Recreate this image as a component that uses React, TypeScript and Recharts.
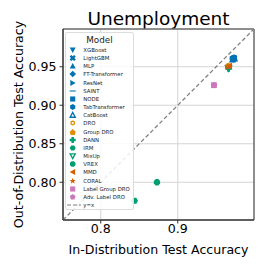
import React from "react";
import {
  ScatterChart,
  Scatter,
  XAxis,
  YAxis,
  CartesianGrid,
  ReferenceLine,
  ReferenceArea,
  Legend,
} from "recharts";

const FONT = "'DejaVu Sans', sans-serif";

const MODELS = [
  "XGBoost",
  "LightGBM",
  "MLP",
  "FT-Transformer",
  "ResNet",
  "SAINT",
  "NODE",
  "TabTransformer",
  "CatBoost",
  "DRO",
  "Group DRO",
  "DANN",
  "IRM",
  "MixUp",
  "VREX",
  "MMD",
  "CORAL",
  "Label Group DRO",
  "Adv. Label DRO",
];

// in-distribution / out-of-distribution accuracy per model
const IN_DIST = [
  0.972, 0.973, 0.971, 0.972, 0.971, 0.972, 0.973, 0.973, 0.973, 0.965, 0.966, 0.966, 0.844, 0.966, 0.873,
  0.967, 0.965, 0.947, 0.947,
];
const OUT_DIST = [
  0.96, 0.961, 0.959, 0.96, 0.96, 0.961, 0.961, 0.96, 0.961, 0.951, 0.951, 0.948, 0.776, 0.948, 0.8, 0.951,
  0.95, 0.926, 0.926,
];

const X_TICKS = [0.8, 0.9];
const Y_TICKS = [0.8, 0.85, 0.9, 0.95];
const DOMAIN: [number, number] = [0.751, 0.999];

// styling, kept apart from the values
const BLUE = "#0173b2";
const ORANGE = "#de8f05";
const GREEN = "#029e73";
const RED = "#d55e00";
const PINK = "#cc78bc";
const MODEL_COLORS = [
  BLUE, BLUE, BLUE, BLUE, BLUE, BLUE, BLUE, BLUE, BLUE,
  ORANGE, ORANGE, GREEN, GREEN, GREEN, GREEN, RED, RED, PINK, PINK,
];
const MODEL_MARKERS = [
  "v", "X", "^", "D", ">", "_", "s", "h", "tri", "ring", "house", "P", "h2", "vo", "oct", "<", "*", "s", "p",
];
// outlined markers go underneath the filled ones
const DRAW_ORDER = [8, 9, 13, 0, 1, 2, 3, 4, 5, 6, 7, 10, 11, 12, 14, 15, 16, 17, 18];

function poly(pts: number[][]) {
  return pts.map((p) => `${p[0].toFixed(2)},${p[1].toFixed(2)}`).join(" ");
}

function regular(cx: number, cy: number, r: number, n: number, rot: number) {
  const pts: number[][] = [];
  for (let i = 0; i < n; i++) {
    const a = rot + (i * 2 * Math.PI) / n;
    pts.push([cx + r * Math.sin(a), cy - r * Math.cos(a)]);
  }
  return poly(pts);
}

function plusPts(cx: number, cy: number, r: number, w: number, rot: number) {
  const base = [
    [-w, -r], [w, -r], [w, -w], [r, -w], [r, w], [w, w], [w, r], [-w, r], [-w, w], [-r, w], [-r, -w], [-w, -w],
  ];
  const c = Math.cos(rot);
  const s = Math.sin(rot);
  return poly(base.map(([x, y]) => [cx + x * c - y * s, cy + x * s + y * c]));
}

function marker(kind: string, cx: number, cy: number, r: number, color: string) {
  switch (kind) {
    case "v":
      return <polygon points={poly([[cx - r, cy - r * 0.8], [cx + r, cy - r * 0.8], [cx, cy + r]])} fill={color} />;
    case "^":
      return <polygon points={poly([[cx - r, cy + r * 0.8], [cx + r, cy + r * 0.8], [cx, cy - r]])} fill={color} />;
    case ">":
      return <polygon points={poly([[cx - r * 0.8, cy - r], [cx - r * 0.8, cy + r], [cx + r, cy]])} fill={color} />;
    case "<":
      return <polygon points={poly([[cx + r * 0.8, cy - r], [cx + r * 0.8, cy + r], [cx - r, cy]])} fill={color} />;
    case "D":
      return <polygon points={regular(cx, cy, r * 1.1, 4, 0)} fill={color} />;
    case "X":
      return <polygon points={plusPts(cx, cy, r * 1.05, r * 0.4, Math.PI / 4)} fill={color} />;
    case "P":
      return <polygon points={plusPts(cx, cy, r, r * 0.42, 0)} fill={color} />;
    case "_":
      return <rect x={cx - r} y={cy - r * 0.18} width={2 * r} height={r * 0.36} fill={color} />;
    case "s":
      return <rect x={cx - r * 0.85} y={cy - r * 0.85} width={r * 1.7} height={r * 1.7} fill={color} />;
    case "h":
      return <polygon points={regular(cx, cy, r, 6, 0)} fill={color} />;
    case "h2":
      return <polygon points={regular(cx, cy, r, 6, Math.PI / 6)} fill={color} />;
    case "oct":
      return <polygon points={regular(cx, cy, r, 8, Math.PI / 8)} fill={color} />;
    case "p":
      return <polygon points={regular(cx, cy, r, 5, 0)} fill={color} />;
    case "house":
      return (
        <polygon
          points={poly([[cx, cy - r], [cx + r, cy - r * 0.1], [cx + r * 0.7, cy + r], [cx - r * 0.7, cy + r], [cx - r, cy - r * 0.1]])}
          fill={color}
        />
      );
    case "tri":
      return (
        <polygon
          points={poly([[cx - r * 0.85, cy + r * 0.75], [cx + r * 0.85, cy + r * 0.75], [cx, cy - r * 0.85]])}
          fill="white"
          stroke={color}
          strokeWidth={r * 0.45}
        />
      );
    case "vo":
      return (
        <polygon
          points={poly([[cx - r * 0.85, cy - r * 0.7], [cx + r * 0.85, cy - r * 0.7], [cx, cy + r * 0.85]])}
          fill="white"
          stroke={color}
          strokeWidth={r * 0.45}
        />
      );
    case "ring":
      return <circle cx={cx} cy={cy} r={r * 0.6} fill="white" stroke={color} strokeWidth={r * 0.45} />;
    case "*": {
      const pts: number[][] = [];
      for (let i = 0; i < 10; i++) {
        const a = (i * Math.PI) / 5;
        const rr = i % 2 === 0 ? r * 1.1 : r * 0.45;
        pts.push([cx + rr * Math.sin(a), cy - rr * Math.cos(a)]);
      }
      return <polygon points={poly(pts)} fill={color} />;
    }
    default:
      return <circle cx={cx} cy={cy} r={r} fill={color} />;
  }
}

function ModelLegend() {
  return (
    <div
      style={{
        position: "relative",
        width: 69,
        height: 178,
        boxSizing: "border-box",
        background: "rgba(255,255,255,0.85)",
        border: "1px solid #dcdcdc",
        borderRadius: 2,
        fontFamily: FONT,
        color: "#222",
      }}
    >
      <div
        style={{
          position: "absolute",
          left: 0,
          width: 67,
          top: 1.5,
          textAlign: "center",
          fontSize: 8.8,
          lineHeight: "10px",
        }}
      >
        Model
      </div>
      {MODELS.map((m, i) => (
        <div key={m} style={{ position: "absolute", left: 0, top: 13 + i * 8.16, height: 8, width: 67 }}>
          <svg width={14} height={8} style={{ position: "absolute", left: 0, top: 0 }}>
            {marker(MODEL_MARKERS[i], 6.7, 4, 3, MODEL_COLORS[i])}
          </svg>
          <span style={{ position: "absolute", left: 17.3, top: 0, fontSize: 5.4, lineHeight: "8px", whiteSpace: "nowrap" }}>
            {m}
          </span>
        </div>
      ))}
      <div style={{ position: "absolute", left: 0, top: 13 + MODELS.length * 8.16, height: 8, width: 67 }}>
        <svg width={16} height={8} style={{ position: "absolute", left: 0, top: 0 }}>
          <line x1={1} y1={4} x2={15} y2={4} stroke="#808080" strokeWidth={1.2} strokeDasharray="4 2" />
        </svg>
        <span style={{ position: "absolute", left: 17.3, top: 0, fontSize: 5.4, lineHeight: "8px" }}>y=x</span>
      </div>
    </div>
  );
}

export default function App() {
  return (
    <div style={{ position: "absolute", left: 0, top: 0, width: 266, height: 266, background: "#fff", fontFamily: FONT }}>
      <div
        style={{
          position: "absolute",
          left: 63,
          top: 8,
          width: 191,
          textAlign: "center",
          fontSize: 18.5,
          lineHeight: "21px",
          color: "#000",
        }}
      >
        Unemployment
      </div>
      <ScatterChart width={266} height={266} margin={{ top: 29, right: 12, bottom: 0, left: 0 }}>
        <CartesianGrid stroke="#d4d4d4" strokeWidth={1} />
        <XAxis
          type="number"
          dataKey="x"
          domain={DOMAIN}
          ticks={X_TICKS}
          allowDataOverflow
          height={46}
          tickFormatter={(v: number) => v.toFixed(1)}
          tick={{ fontSize: 12.6, fill: "#000", fontFamily: FONT }}
          tickSize={3.5}
          tickMargin={1}
          tickLine={{ stroke: "#333" }}
          axisLine={{ stroke: "#333" }}
          label={{
            content: (p: any) => (
              <text
                x={p.viewBox.x + p.viewBox.width / 2}
                y={p.viewBox.y + 29}
                textAnchor="middle"
                dominantBaseline="central"
                fontSize={12.6}
                fontFamily={FONT}
                fill="#000"
              >
                In-Distribution Test Accuracy
              </text>
            ),
          }}
        />
        <YAxis
          type="number"
          dataKey="y"
          domain={DOMAIN}
          ticks={Y_TICKS}
          allowDataOverflow
          width={63}
          tickFormatter={(v: number) => v.toFixed(2)}
          tick={{ fontSize: 12.6, fill: "#000", fontFamily: FONT }}
          tickSize={3.5}
          tickMargin={3}
          tickLine={{ stroke: "#333" }}
          axisLine={{ stroke: "#333" }}
          label={{
            content: (p: any) => {
              const x = p.viewBox.x + 18;
              const y = p.viewBox.y + p.viewBox.height / 2;
              return (
                <text
                  x={x}
                  y={y}
                  transform={`rotate(-90 ${x} ${y})`}
                  textAnchor="middle"
                  dominantBaseline="central"
                  fontSize={12.6}
                  fontFamily={FONT}
                  fill="#000"
                >
                  Out-of-Distribution Test Accuracy
                </text>
              );
            },
          }}
        />
        <ReferenceArea
          x1={DOMAIN[0]}
          x2={DOMAIN[1]}
          y1={DOMAIN[0]}
          y2={DOMAIN[1]}
          fill="none"
          fillOpacity={0}
          stroke="#333"
          strokeWidth={1}
          ifOverflow="extendDomain"
        />
        <ReferenceLine
          segment={[
            { x: DOMAIN[0], y: DOMAIN[0] },
            { x: DOMAIN[1], y: DOMAIN[1] },
          ]}
          stroke="#808080"
          strokeWidth={1.3}
          strokeDasharray="4 2.5"
        />
        {DRAW_ORDER.map((i) => (
          <Scatter
            key={MODELS[i]}
            name={MODELS[i]}
            data={[{ x: IN_DIST[i], y: OUT_DIST[i] }]}
            isAnimationActive={false}
            shape={(p: any) => marker(MODEL_MARKERS[i], p.cx, p.cy, 3.4, MODEL_COLORS[i])}
          />
        ))}
        <Legend
          layout="vertical"
          align="center"
          verticalAlign="middle"
          wrapperStyle={{ left: 65, top: 32, width: 69, height: 178 }}
          content={() => <ModelLegend />}
        />
      </ScatterChart>
    </div>
  );
}
